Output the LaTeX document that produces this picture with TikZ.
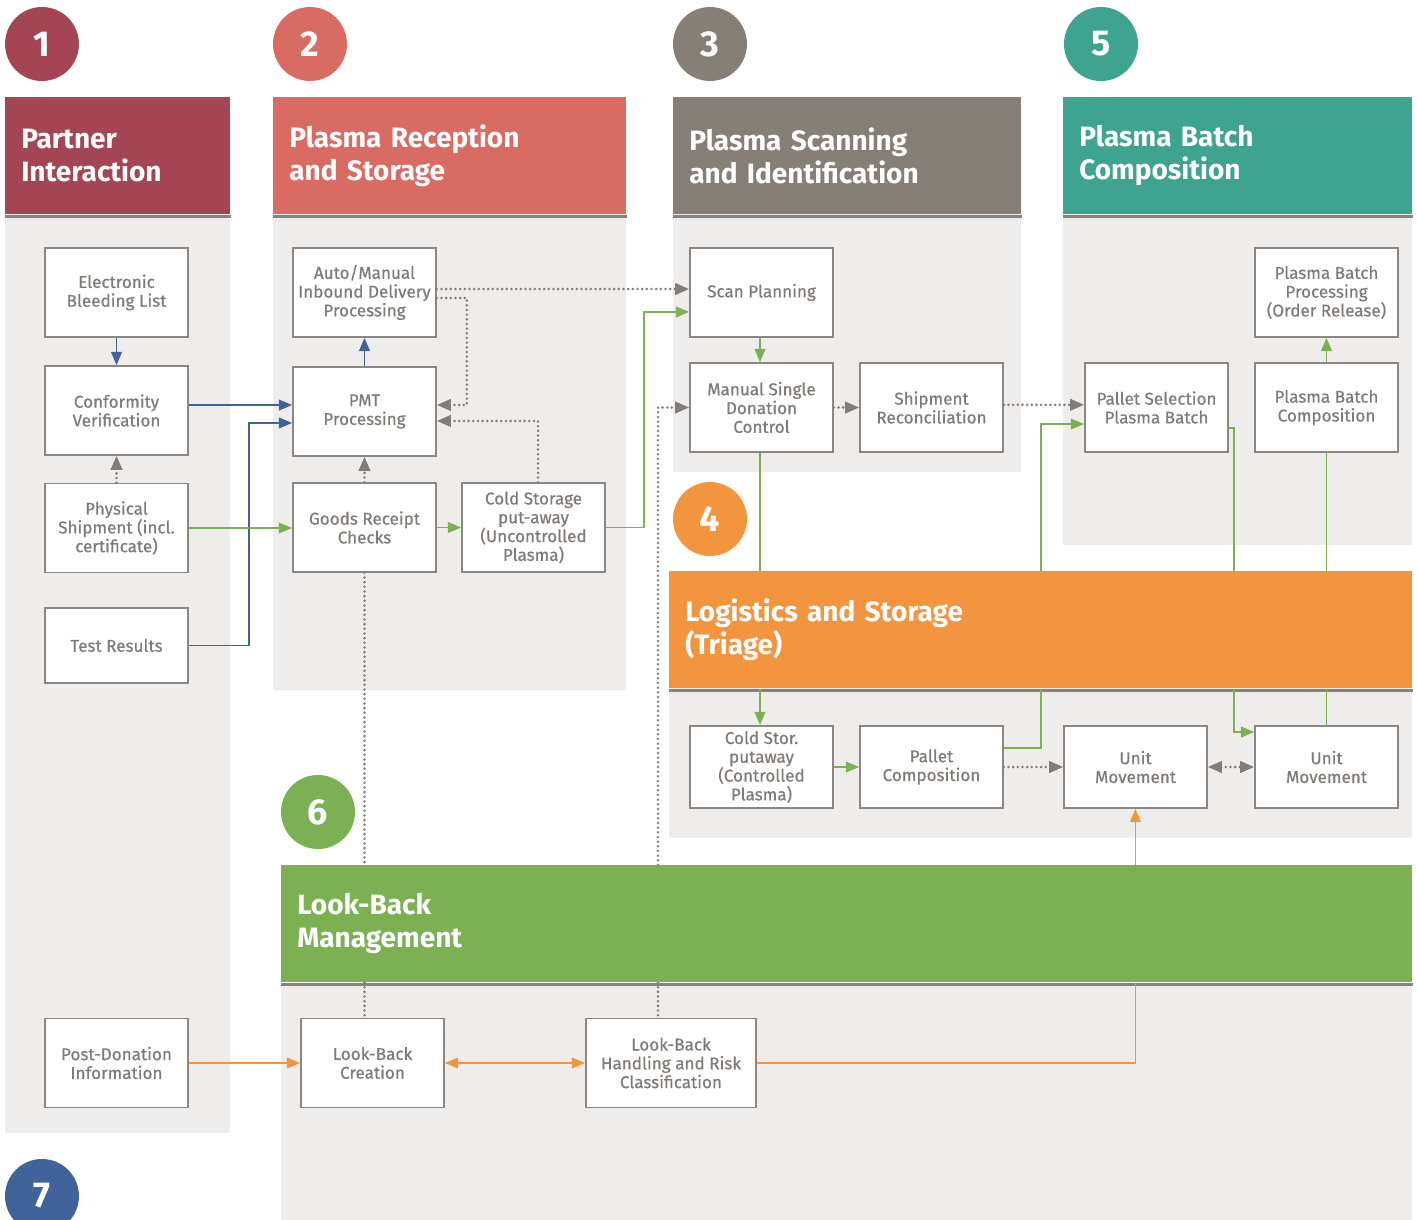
\documentclass[tikz,border=0pt]{standalone}
\usepackage{fontspec}
\setmainfont{Fira Sans}
\newfontfamily\boxface{Fira Sans}[FakeBold=0.5]
\usepackage{tikz}
\usetikzlibrary{calc}
\usetikzlibrary{arrows.meta}

\definecolor{cPartner}{HTML}{A34552}
\definecolor{cRecept}{HTML}{D86C62}
\definecolor{cScan}{HTML}{867F77}
\definecolor{cLogist}{HTML}{F3953F}
\definecolor{cBatch}{HTML}{3EA38F}
\definecolor{cLook}{HTML}{7BB153}
\definecolor{cSeven}{HTML}{40639A}
\definecolor{panelgray}{HTML}{EEEDEB}
\definecolor{shadegray}{HTML}{86817C}
\definecolor{boxgray}{HTML}{8C8782}
\definecolor{dotgray}{HTML}{827D78}
\definecolor{txtgray}{HTML}{7F7A75}

\tikzset{
	procbox/.style={draw=boxgray, fill=white, line width=1.2pt, minimum width=107.25pt, minimum height=66.75pt, align=center, text=txtgray, inner sep=1pt, font=\boxface\fontsize{12.8}{14.1}\selectfont},
	header/.style={anchor=north west, minimum height=87.75pt, inner xsep=12pt, text width=#1, align=left, text=white, font=\fontsize{21}{24.75}\selectfont\bfseries},
	numdisc/.style={circle, minimum size=55.5pt, inner sep=0pt, text=white, font=\fontsize{27}{27}\selectfont\bfseries},
	hshade/.style={shadegray, line width=2.25pt},
	blueline/.style={draw=cSeven, line width=1.45pt, -{Triangle[length=10pt,width=8pt]}},
	greenline/.style={draw=cLook, line width=1.45pt, -{Triangle[length=10pt,width=8pt]}},
	greenplain/.style={draw=cLook, line width=1.45pt},
	orangeline/.style={draw=cLogist, line width=1.45pt, -{Triangle[length=10pt,width=8pt]}},
	dotline/.style={draw=dotgray, line width=2.1pt, line cap=round, dash pattern=on 0pt off 3.5pt},
	dotarrow/.style={dotline, -{Triangle[length=10.5pt,width=8.5pt,line cap=butt]}},
}

\begin{document}
\begin{tikzpicture}[x=0.75pt, y=-0.75pt]
			\useasboundingbox (0,0) rectangle (1417,1220);

			\fill[panelgray] (5,214) rectangle (230,1133);
			\fill[panelgray] (273,214) rectangle (626,690);
			\fill[panelgray] (673,214) rectangle (1021,472);
			\fill[panelgray] (1063,214) rectangle (1412,545);
			\fill[panelgray] (669,688) rectangle (1412,838);
			\fill[panelgray] (281,983) rectangle (1412,1222);

			\node[header=144.75pt, fill=cPartner] (hPartner) at (5,97) {Partner\\Interaction};
			\node[header=240.75pt, fill=cRecept] (hRecept) at (273,97) {Plasma Reception\\and Storage};
			\node[header=237pt, fill=cScan] (hScan) at (673,97) {Plasma Scanning\\and Identification};
			\node[header=237.75pt, fill=cBatch] (hBatch) at (1063,97) {Plasma Batch\\Composition};
			\node[header=533.25pt, fill=cLogist] (hLogist) at (669,571) {Logistics and Storage\\(Triage)};
			\node[header=824.25pt, fill=cLook] (hLook) at (281,865) {Look-Back\\Management};

			\foreach \h in {hPartner, hRecept, hScan, hBatch, hLogist, hLook}
				\draw[hshade] ([yshift=-1.1pt]\h.south west) -- ([yshift=-1.1pt]\h.south east);

			\node[numdisc, fill=cPartner] (nOne) at (42,44) {1};
			\node[numdisc, fill=cRecept] (nTwo) at (310,44) {2};
			\node[numdisc, fill=cScan] (nThree) at (710,44) {3};
			\node[numdisc, fill=cBatch] (nFive) at (1101,44) {5};
			\node[numdisc, fill=cLogist] (nFour) at (710,519) {4};
			\node[numdisc, fill=cLook] (nSix) at (318,812) {6};
			\node[numdisc, fill=cSeven] (nSeven) at (42,1196) {7};

			\node[procbox] (bleed) at (116.5,292.5) {Electronic\\Bleeding List};
			\node[procbox] (conform) at (116.5,410.5) {Conformity\\Verification};
			\node[procbox] (shipment) at (116.5,528) {Physical\\Shipment (incl.\\certificate)};
			\node[procbox, minimum height=56.25pt] (tests) at (116.5,645.5) {Test Results};
			\node[procbox] (postdon) at (116.5,1063) {Post-Donation\\Information};

			\node[procbox] (inbound) at (364.5,292.5) {Auto/Manual\\Inbound Delivery\\Processing};
			\node[procbox] (pmt) at (364.5,411.5) {PMT\\Processing};
			\node[procbox] (goods) at (364.5,527.5) {Goods Receipt\\Checks};
			\node[procbox] (coldput) at (533.5,527.5) {Cold Storage\\put-away\\(Uncontrolled\\Plasma)};

			\node[procbox] (scanplan) at (761.5,292.5) {Scan Planning};
			\node[procbox] (single) at (761.5,407.5) {Manual Single\\Donation\\Control};
			\node[procbox] (reconcile) at (931.5,407.5) {Shipment\\Reconciliation};

			\node[procbox] (palsel) at (1156.5,407.5) {Pallet Selection\\Plasma Batch};
			\node[procbox] (batchcomp) at (1326.5,407.5) {Plasma Batch\\Composition};
			\node[procbox] (batchproc) at (1326.5,292.5) {Plasma Batch\\Processing\\(Order Release)};

			\node[procbox, minimum height=61.5pt] (coldctrl) at (761.5,767) {Cold Stor.\\putaway\\(Controlled\\Plasma)};
			\node[procbox, minimum height=61.5pt] (palcomp) at (931.5,767) {Pallet\\Composition};
			\node[procbox, minimum height=61.5pt] (moveA) at (1135.5,767) {Unit\\Movement};
			\node[procbox, minimum height=61.5pt] (moveB) at (1326.5,767) {Unit\\Movement};

			\node[procbox] (lbcreate) at (372.5,1063) {Look-Back\\Creation};
			\node[procbox, minimum width=127.5pt] (lbhandle) at (671,1063) {Look-Back\\Handling and Risk\\Classification};

			\coordinate (jLeft) at (1041,0);
			\coordinate (jRight) at (1234,0);
			\coordinate (jDot) at (658,0);
			\coordinate (jMid) at (760,0);

			\draw[blueline] (bleed) -- (conform);
			\draw[blueline] ([yshift=4.1pt]conform.east) -- ([yshift=4.1pt]conform.east -| pmt.west);
			\draw[blueline] (tests.east) -- ++(60,0) |- ([yshift=-8.6pt]pmt.west);
			\draw[blueline] (pmt) -- (inbound);

			\draw[greenline] (shipment.east) -- (shipment.east -| goods.west);
			\draw[greenline] (goods) -- (coldput);
			\draw[greenline] (coldput.east) -- ++(38,0) |- ([yshift=-14.6pt]scanplan.west);
			\draw[greenline] (jMid |- scanplan.south) -- (jMid |- single.north);
			\draw[greenplain] (jMid |- single.south) -- (jMid |- hLogist.north);
			\draw[greenline] (jLeft |- hLogist.north) |- ([yshift=-12.4pt]palsel.west);
			\draw[greenplain] ([yshift=-15.4pt]palsel.east) -| (jRight |- hLogist.north);
			\draw[greenplain] (batchcomp.south) -- (batchcomp.south |- hLogist.north);
			\draw[greenline] (batchcomp) -- (batchproc);
			\draw[greenline] (jMid |- hLogist.south) -- (jMid |- coldctrl.north);
			\draw[greenline] (coldctrl) -- (palcomp);
			\draw[greenplain] ([yshift=14.25pt]palcomp.east) -| (jLeft |- hLogist.south);
			\draw[greenline] (jRight |- hLogist.south) |- ([yshift=26.25pt]moveB.west);
			\draw[greenplain] (moveB.north) -- (moveB.north |- hLogist.south);

			\draw[dotarrow] (shipment) -- (conform);
			\draw[dotarrow] (goods) -- (pmt);
			\draw[dotarrow] ([xshift=3.4pt]coldput.north) |- ([yshift=-7.1pt]pmt.east);
			\draw[dotarrow] ([yshift=-4.1pt]inbound.east) -- ++(30,0) |- ([yshift=4.9pt]pmt.east);
			\draw[dotarrow] ([yshift=2.6pt]inbound.east) -- ([yshift=2.6pt]scanplan.west);
			\draw[dotarrow] (single) -- (reconcile);
			\draw[dotarrow] ([yshift=2pt]reconcile.east) -- ([yshift=2pt]palsel.west);
			\draw[dotarrow] (palcomp) -- (moveA);
			\draw[dotarrow, {Triangle[length=10.5pt,width=8.5pt,line cap=butt]}-{Triangle[length=10.5pt,width=8.5pt,line cap=butt]}] (moveA) -- (moveB);
			\draw[dotline] (goods.south) -- (goods.south |- hLook.north);
			\draw[dotline] (goods.south |- hLook.south) -- (goods.south |- lbcreate.north);
			\draw[dotarrow] (jDot |- hLook.north) |- (single.west);
			\draw[dotline] (jDot |- hLook.south) -- (jDot |- lbhandle.north);

			\draw[orangeline] (postdon) -- (lbcreate);
			\draw[orangeline, {Triangle[length=10pt,width=8pt]}-{Triangle[length=10pt,width=8pt]}] (lbcreate) -- (lbhandle);
			\draw[draw=cLogist, line width=1.45pt] (lbhandle.east) -| (moveA.south |- hLook.south);
			\draw[orangeline] (moveA.south |- hLook.north) -- (moveA.south);
		\end{tikzpicture}
\end{document}
